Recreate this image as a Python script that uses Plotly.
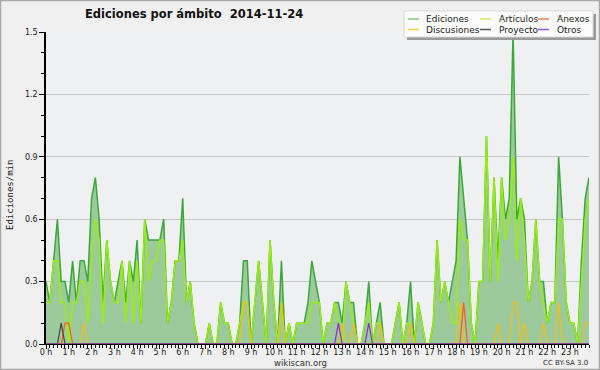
import plotly.graph_objects as go

# 10-minute slots across the day (x categories, in hours)
slot_minutes = list(range(0, 1440, 10))
hours = [m / 60 for m in slot_minutes]

ediciones = [
    0.3, 0.2, 0.4, 0.6, 0.3, 0.3, 0.2, 0.4, 0.2, 0.4, 0.4, 0.3,
    0.7, 0.8, 0.6, 0.2, 0.5, 0.3, 0.2, 0.3, 0.4, 0.2, 0.4, 0.3,
    0.5, 0.1, 0.6, 0.5, 0.5, 0.5, 0.5, 0.6, 0.1, 0.2, 0.4, 0.4,
    0.7, 0.2, 0.3, 0.1, 0.0, 0.0, 0.0, 0.1, 0.0, 0.0, 0.2, 0.1,
    0.1, 0.0, 0.0, 0.1, 0.4, 0.4, 0.0, 0.2, 0.4, 0.2, 0.0, 0.5,
    0.2, 0.0, 0.4, 0.0, 0.1, 0.0, 0.1, 0.1, 0.1, 0.2, 0.4, 0.3,
    0.2, 0.0, 0.1, 0.1, 0.2, 0.2, 0.1, 0.3, 0.2, 0.2, 0.0, 0.0,
    0.1, 0.3, 0.0, 0.1, 0.2, 0.0, 0.0, 0.0, 0.1, 0.2, 0.0, 0.1,
    0.3, 0.0, 0.2, 0.1, 0.0, 0.0, 0.1, 0.5, 0.2, 0.3, 0.2, 0.3,
    0.4, 0.9, 0.7, 0.5, 0.1, 0.0, 0.3, 0.3, 1.0, 0.3, 0.8, 0.4,
    0.8, 0.6, 0.7, 1.5, 0.6, 0.7, 0.6, 0.2, 0.3, 0.6, 0.3, 0.3,
    0.1, 0.2, 0.2, 0.9, 0.6, 0.2, 0.1, 0.1, 0.0, 0.4, 0.7, 0.8,
]

articulos = [
    0.2, 0.2, 0.4, 0.4, 0.2, 0.2, 0.0, 0.2, 0.2, 0.3, 0.3, 0.1,
    0.4, 0.6, 0.5, 0.1, 0.5, 0.3, 0.2, 0.2, 0.4, 0.1, 0.4, 0.1,
    0.4, 0.1, 0.6, 0.3, 0.4, 0.4, 0.5, 0.5, 0.1, 0.2, 0.4, 0.4,
    0.5, 0.2, 0.3, 0.1, 0.0, 0.0, 0.0, 0.1, 0.0, 0.0, 0.2, 0.1,
    0.1, 0.0, 0.0, 0.1, 0.2, 0.2, 0.0, 0.2, 0.4, 0.2, 0.0, 0.5,
    0.2, 0.0, 0.2, 0.0, 0.1, 0.0, 0.1, 0.1, 0.1, 0.1, 0.2, 0.2,
    0.2, 0.0, 0.1, 0.1, 0.2, 0.1, 0.0, 0.3, 0.2, 0.1, 0.0, 0.0,
    0.1, 0.2, 0.0, 0.1, 0.1, 0.0, 0.0, 0.0, 0.1, 0.2, 0.0, 0.1,
    0.1, 0.0, 0.2, 0.1, 0.0, 0.0, 0.1, 0.5, 0.2, 0.3, 0.2, 0.1,
    0.1, 0.6, 0.5, 0.5, 0.1, 0.0, 0.3, 0.3, 1.0, 0.3, 0.8, 0.3,
    0.8, 0.5, 0.6, 0.9, 0.4, 0.7, 0.5, 0.2, 0.3, 0.6, 0.3, 0.2,
    0.1, 0.2, 0.2, 0.6, 0.6, 0.2, 0.1, 0.1, 0.0, 0.3, 0.6, 0.7,
]

discusiones = [
    0, 0, 0, 0, 0, 0, 0, 0, 0, 0, 0.1, 0, 0, 0, 0, 0, 0, 0, 0, 0, 0, 0, 0, 0,
    0, 0, 0, 0, 0, 0, 0, 0, 0, 0, 0, 0, 0, 0, 0, 0, 0, 0, 0, 0, 0, 0, 0, 0,
    0, 0, 0, 0, 0.2, 0.2, 0, 0, 0, 0, 0, 0, 0, 0, 0.2, 0, 0, 0, 0, 0, 0, 0, 0, 0,
    0, 0, 0, 0, 0, 0, 0.1, 0, 0, 0.1, 0, 0, 0, 0, 0, 0, 0.1, 0, 0, 0, 0, 0, 0, 0,
    0.1, 0, 0, 0, 0, 0, 0, 0, 0, 0, 0, 0, 0, 0.2, 0, 0, 0, 0, 0, 0, 0, 0, 0, 0.1,
    0, 0, 0, 0.2, 0.2, 0, 0.1, 0, 0, 0, 0, 0.1, 0, 0, 0, 0.2, 0, 0, 0, 0, 0, 0, 0.1, 0.1,
]

anexos = [
    0, 0, 0, 0, 0, 0.1, 0.1, 0, 0, 0, 0, 0, 0, 0, 0, 0, 0, 0, 0, 0, 0, 0, 0, 0,
    0, 0, 0, 0, 0, 0, 0, 0, 0, 0, 0, 0, 0, 0, 0, 0, 0, 0, 0, 0, 0, 0, 0, 0,
    0, 0, 0, 0, 0, 0, 0, 0, 0, 0, 0, 0, 0, 0, 0, 0, 0, 0, 0, 0, 0, 0, 0, 0,
    0, 0, 0, 0, 0, 0, 0, 0, 0, 0, 0, 0, 0, 0, 0, 0, 0, 0, 0, 0, 0, 0, 0, 0,
    0, 0, 0, 0, 0, 0, 0, 0, 0, 0, 0, 0, 0, 0, 0.2, 0, 0, 0, 0, 0, 0, 0, 0, 0,
    0, 0, 0, 0, 0, 0, 0, 0, 0, 0, 0, 0, 0, 0, 0, 0, 0, 0, 0, 0, 0, 0, 0, 0,
]

proyecto = [
    0, 0, 0, 0, 0.1, 0, 0, 0, 0, 0, 0, 0, 0, 0, 0, 0, 0, 0, 0, 0, 0, 0, 0, 0,
    0, 0, 0, 0, 0, 0, 0, 0, 0, 0, 0, 0, 0, 0, 0, 0, 0, 0, 0, 0, 0, 0, 0, 0,
    0, 0, 0, 0, 0, 0, 0, 0, 0, 0, 0, 0, 0, 0, 0, 0, 0, 0, 0, 0, 0, 0, 0, 0,
    0, 0, 0, 0, 0, 0, 0, 0, 0, 0, 0, 0, 0, 0, 0, 0, 0, 0, 0, 0, 0, 0, 0, 0,
    0, 0, 0, 0, 0, 0, 0, 0, 0, 0, 0, 0, 0, 0, 0, 0, 0, 0, 0, 0, 0, 0, 0, 0,
    0, 0, 0, 0, 0, 0, 0, 0, 0, 0, 0, 0, 0, 0, 0, 0, 0, 0, 0, 0, 0, 0, 0, 0,
]

otros = [
    0, 0, 0, 0, 0, 0, 0, 0, 0, 0, 0, 0, 0, 0, 0, 0, 0, 0, 0, 0, 0, 0, 0, 0,
    0, 0, 0, 0, 0, 0, 0, 0, 0, 0, 0, 0, 0, 0, 0, 0, 0, 0, 0, 0, 0, 0, 0, 0,
    0, 0, 0, 0, 0, 0, 0, 0, 0, 0, 0, 0, 0, 0, 0, 0, 0, 0, 0, 0, 0, 0, 0, 0,
    0, 0, 0, 0, 0, 0.1, 0, 0, 0, 0, 0, 0, 0, 0.1, 0, 0, 0, 0, 0, 0, 0, 0, 0, 0,
    0, 0, 0, 0, 0, 0, 0, 0, 0, 0, 0, 0, 0, 0, 0, 0, 0, 0, 0, 0, 0, 0, 0, 0,
    0, 0, 0, 0, 0, 0, 0, 0, 0, 0, 0, 0, 0, 0, 0, 0, 0, 0, 0, 0, 0, 0, 0, 0,
]

colors = {
    "Ediciones": "#3aa83a",
    "Artículos": "#99ee11",
    "Anexos": "#ff5a14",
    "Discusiones": "#f2be16",
    "Proyecto": "#444444",
    "Otros": "#8a2be2",
}
legend_colors = {
    "Ediciones": "#7fcc7f",
    "Artículos": "#ccee66",
    "Anexos": "#f08050",
    "Discusiones": "#f5cc44",
    "Proyecto": "#555555",
    "Otros": "#9b50ee",
}

# layout geometry (pixels)
L, R, T, B = 46, 11, 32, 26
W = 600 - L - R
H = 370 - T - B


def px(x):
    return (x - L) / W


def py(y):
    return (T + H - y) / H


fig = go.Figure()
fig.add_trace(go.Scatter(
    x=hours, y=ediciones, mode="lines", name="Ediciones",
    fill="tozeroy", fillcolor="#9dca9d",
    line=dict(color=colors["Ediciones"], width=1.5),
))
fig.add_trace(go.Scatter(
    x=hours, y=articulos, mode="lines", name="Artículos",
    line=dict(color=colors["Artículos"], width=1.5),
))
for name, vals in [("Discusiones", discusiones), ("Anexos", anexos),
                   ("Proyecto", proyecto), ("Otros", otros)]:
    fig.add_trace(go.Scatter(
        x=hours, y=vals, mode="lines", name=name,
        line=dict(color=colors[name], width=1.2),
    ))

tickfont = dict(family="DejaVu Sans", size=8, color="#222222")

fig.update_layout(
    width=600, height=370,
    margin=dict(l=L, r=R, t=T, b=B, pad=0),
    paper_bgcolor="#f0f0f0",
    plot_bgcolor="#eef0f2",
    showlegend=False,
    title=dict(
        text="<b>Ediciones por ámbito  2014-11-24</b>",
        font=dict(family="DejaVu Sans", size=11.5, color="#111111"),
        x=85 / 600, xanchor="left", xref="container",
        y=1 - 14 / 370, yanchor="middle", yref="container",
    ),
    xaxis=dict(
        range=[0, hours[-1]],
        tick0=0, dtick=1, ticksuffix=" h",
        ticks="outside", ticklen=4, tickwidth=1, tickcolor="black",
        showline=True, linecolor="black", linewidth=1,
        showgrid=False, zeroline=False,
        tickfont=tickfont,
        ticklabelstandoff=-4,
        minor=dict(dtick=1 / 6, tick0=0, ticks="outside", ticklen=3,
                   tickcolor="black", tickwidth=1, showgrid=False),
    ),
    yaxis=dict(
        range=[0, 1.5],
        tick0=0, dtick=0.3, tickformat=".1f",
        ticks="outside", ticklen=5, tickwidth=1, tickcolor="black",
        showline=True, linecolor="black", linewidth=1.5,
        showgrid=True, gridcolor="#c8c8c8", gridwidth=1,
        zeroline=False,
        tickfont=tickfont,
        minor=dict(dtick=0.1, tick0=0, ticks="outside", ticklen=3,
                   tickcolor="black", tickwidth=1, showgrid=False),
    ),
)

shapes = []
# outer border
shapes.append(dict(type="rect", xref="paper", yref="paper",
                   x0=px(0.5), x1=px(599.5), y0=py(369.5), y1=py(0.5),
                   line=dict(color="#a8a8a8", width=1.5), fillcolor="rgba(0,0,0,0)",
                   layer="below"))
# legend shadow and box
shapes.append(dict(type="rect", xref="paper", yref="paper",
                   x0=px(407), x1=px(596), y0=py(40), y1=py(14),
                   line=dict(width=0), fillcolor="#9a9a9a", layer="above"))
shapes.append(dict(type="rect", xref="paper", yref="paper",
                   x0=px(404), x1=px(593), y0=py(37), y1=py(11),
                   line=dict(color="#d8d8d8", width=1), fillcolor="#fcfcfc",
                   layer="above"))

annotations = []
legend_layout = [
    ("Ediciones", 408, 424, 19), ("Artículos", 480, 497, 19), ("Anexos", 538, 555, 19),
    ("Discusiones", 408, 424, 29.5), ("Proyecto", 480, 497, 29.5), ("Otros", 538, 555, 29.5),
]
for name, sx, tx, ty in legend_layout:
    shapes.append(dict(type="line", xref="paper", yref="paper",
                       x0=px(sx), x1=px(sx + 11), y0=py(ty), y1=py(ty),
                       line=dict(color=legend_colors[name], width=1.5), layer="above"))
    annotations.append(dict(xref="paper", yref="paper", x=px(tx), y=py(ty),
                            xanchor="left", yanchor="middle", text=name,
                            showarrow=False,
                            font=dict(family="DejaVu Sans", size=9, color="#222222")))

annotations.append(dict(xref="paper", yref="paper", x=px(10), y=py(195),
                        text="Ediciones/min", textangle=-90, showarrow=False,
                        xanchor="center", yanchor="middle",
                        font=dict(family="DejaVu Sans Mono", size=9, color="#222222")))
annotations.append(dict(xref="paper", yref="paper", x=px(300), y=py(363),
                        text="wikiscan.org", showarrow=False,
                        xanchor="center", yanchor="middle",
                        font=dict(family="DejaVu Sans", size=8.5, color="#333333")))
annotations.append(dict(xref="paper", yref="paper", x=px(590), y=py(363),
                        text="CC BY-SA 3.0", showarrow=False,
                        xanchor="right", yanchor="middle",
                        font=dict(family="DejaVu Sans", size=7, color="#333333")))

fig.update_layout(shapes=shapes, annotations=annotations)

fig.write_html(
    "out.html",
    config={"displayModeBar": False},
    post_script="document.body.style.margin='0';document.body.style.padding='0';",
)
